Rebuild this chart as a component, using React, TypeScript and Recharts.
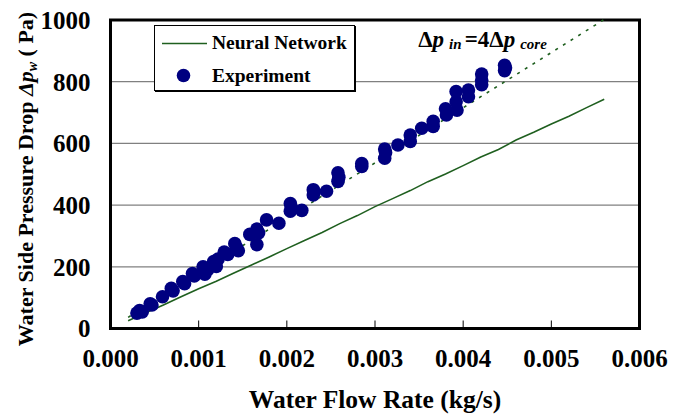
import React from 'react';
import {
  ComposedChart,
  Line,
  Scatter,
  XAxis,
  YAxis,
  CartesianGrid,
  Legend,
  ReferenceArea,
  ReferenceDot,
} from 'recharts';

const FONT = '"Liberation Serif", "Times New Roman", Times, serif';
const NAVY = '#000080';
const GREEN = '#1F5F1F';

// X tick labels and Y tick labels
const xTicks = [0, 0.001, 0.002, 0.003, 0.004, 0.005, 0.006];
const yTicks = [0, 200, 400, 600, 800, 1000];

// Neural network prediction
const nnX = [
  0.0002, 0.0004, 0.0006, 0.0008, 0.001, 0.0012, 0.0014, 0.0016, 0.0018, 0.002,
  0.0022, 0.0024, 0.0026, 0.0028, 0.003, 0.0032, 0.0034, 0.0036, 0.0038, 0.004,
  0.0042, 0.0044, 0.0046, 0.0048, 0.005, 0.0052, 0.0054, 0.0056,
];
const nnY = [
  25, 51, 76, 103, 129, 153, 180, 206, 232, 259, 285, 311, 340, 366, 395, 421,
  447, 476, 501, 528, 556, 580, 611, 636, 663, 688, 716, 743,
];

// Reference line  Δp_in = 4Δp_core
const refX = [0.0002, 0.00559];
const refY = [36, 1000];

// Experimental points
const expX = [
  0.0003, 0.00033, 0.00036, 0.00045, 0.00047, 0.00059, 0.00069, 0.00071, 0.00082,
  0.00084, 0.00093, 0.00095, 0.00105, 0.00107, 0.0011, 0.00117, 0.0012, 0.00122,
  0.00129, 0.00133, 0.00141, 0.00143, 0.00145, 0.00158, 0.00166, 0.00166, 0.00168,
  0.00177, 0.00191, 0.00204, 0.00204, 0.00205, 0.00217, 0.0023, 0.0023, 0.00231,
  0.00245, 0.00258, 0.00258, 0.00259, 0.00285, 0.00285, 0.00311, 0.00311, 0.00312,
  0.00326, 0.0034, 0.0034, 0.00353, 0.00366, 0.00366, 0.0038, 0.00381, 0.00392,
  0.00392, 0.00393, 0.00406, 0.00406, 0.00421, 0.00421, 0.00421, 0.00447, 0.00447,
  0.00448,
];
const expY = [
  50, 58, 54, 80, 76, 103, 130, 122, 152, 145, 178, 170, 200, 176, 190, 217, 201,
  225, 248, 240, 275, 262, 252, 305, 322, 272, 310, 352, 341, 405, 380, 393, 383,
  450, 433, 442, 445, 505, 477, 490, 535, 525, 582, 552, 570, 595, 627, 606, 649,
  672, 655, 712, 692, 768, 735, 708, 773, 751, 825, 805, 790, 853, 836, 845,
];

const nnData = nnX.map((x, i) => ({ x, y: nnY[i] }));
const refData = refX.map((x, i) => ({ x, y: refY[i] }));
const expData = expX.map((x, i) => ({ x, y: expY[i] }));

function XTick(props: any) {
  const { x, y, payload } = props;
  return (
    <g>
      <line x1={x} x2={x} y1={y} y2={y - 8} stroke="#000" strokeWidth={1} />
      <text
        x={x}
        y={y + 38}
        textAnchor="middle"
        fontFamily={FONT}
        fontSize={25}
        fontWeight={700}
        fill="#000"
      >
        {Number(payload.value).toFixed(3)}
      </text>
    </g>
  );
}

function XTitle(props: any) {
  const vb = props.viewBox || {};
  const cx = vb.x + vb.width / 2;
  return (
    <text
      x={cx}
      y={408}
      textAnchor="middle"
      fontFamily={FONT}
      fontSize={25.5}
      fontWeight={700}
      fill="#000"
    >
      Water Flow Rate (kg/s)
    </text>
  );
}

function YTitle() {
  const cx = 33;
  const cy = 179;
  return (
    <text
      x={cx}
      y={cy}
      transform={`rotate(-90 ${cx} ${cy})`}
      textAnchor="middle"
      fontFamily={FONT}
      fontSize={22}
      fontWeight={700}
      fill="#000"
    >
      <tspan>Water Side Pressure Drop </tspan>
      <tspan fontStyle="italic">Δp</tspan>
      <tspan fontStyle="italic" fontSize={14} dy={4}>w</tspan>
      <tspan dy={-4}> ( Pa)</tspan>
    </text>
  );
}

function Annotation(props: any) {
  const vb = props.viewBox || {};
  return (
    <text
      x={vb.x}
      y={vb.y}
      fontFamily={FONT}
      fontSize={23}
      fontWeight={700}
      fill="#000"
    >
      <tspan>Δ</tspan>
      <tspan fontStyle="italic">p</tspan>
      <tspan fontStyle="italic" fontSize={15} dx={5} dy={2}>in</tspan>
      <tspan dy={-2} dx={3}>=4Δ</tspan>
      <tspan fontStyle="italic">p</tspan>
      <tspan fontStyle="italic" fontSize={15} dx={5} dy={2}>core</tspan>
    </text>
  );
}

function LegendBox() {
  return (
    <div
      style={{
        width: 201,
        height: 66,
        boxSizing: 'border-box',
        border: '1px solid #000',
        boxShadow: '1px 1px 0 #000',
        background: '#fff',
        position: 'relative',
      }}
    >
      <svg width={199} height={64} style={{ position: 'absolute', left: 0, top: 0 }}>
        <line x1={7} x2={52} y1={17.5} y2={17.5} stroke={GREEN} strokeWidth={1.6} />
        <circle cx={28.5} cy={49.5} r={6.8} fill={NAVY} />
        <text x={57} y={23} fontFamily={FONT} fontSize={19.5} fontWeight={700} fill="#000">
          Neural Network
        </text>
        <text x={57} y={55.5} fontFamily={FONT} fontSize={19.5} fontWeight={700} fill="#000">
          Experiment
        </text>
      </svg>
    </div>
  );
}

const dotShape = (p: any) => <circle cx={p.cx} cy={p.cy} r={6.8} fill={NAVY} />;

export default function App() {
  return (
    <div style={{ position: 'absolute', left: 0, top: 0, width: 686, height: 417, background: '#fff' }}>
      <ComposedChart
        width={686}
        height={417}
        margin={{ top: 20, right: 46.5, bottom: 0, left: 0 }}
      >
        <CartesianGrid horizontal vertical={false} stroke="#808080" strokeWidth={1.2} />
        <XAxis
          type="number"
          dataKey="x"
          domain={[0, 0.006]}
          ticks={xTicks}
          interval={0}
          height={88.5}
          axisLine={false}
          tickLine={false}
          tickSize={0}
          tickMargin={0}
          tick={<XTick />}
          label={<XTitle />}
        />
        <YAxis
          type="number"
          dataKey="y"
          domain={[0, 1000]}
          ticks={yTicks}
          interval={0}
          width={110.5}
          axisLine={false}
          tickLine={false}
          tickSize={0}
          tickMargin={20}
          tick={{ fontFamily: FONT, fontSize: 25, fontWeight: 700, fill: '#000' }}
          label={<YTitle />}
        />
        <Line
          data={nnData}
          dataKey="y"
          type="linear"
          stroke={GREEN}
          strokeWidth={1.6}
          dot={false}
          isAnimationActive={false}
          legendType="line"
          name="Neural Network"
        />
        <Line
          data={refData}
          dataKey="y"
          type="linear"
          stroke={GREEN}
          strokeWidth={1.6}
          strokeDasharray="3 6"
          dot={false}
          isAnimationActive={false}
          legendType="none"
        />
        <Scatter
          data={expData}
          dataKey="y"
          shape={dotShape}
          isAnimationActive={false}
          name="Experiment"
        />
        <ReferenceArea
          x1={0}
          x2={0.006}
          y1={0}
          y2={1000}
          stroke="#000"
          strokeWidth={3}
          fill="none"
          fillOpacity={0}
        />
        <ReferenceDot x={0.00349} y={912} r={0} fill="none" stroke="none" label={<Annotation />} />
        <Legend
          layout="vertical"
          verticalAlign="middle"
          align="center"
          wrapperStyle={{ left: 154, top: 25, width: 201, height: 66 }}
          content={LegendBox}
        />
      </ComposedChart>
    </div>
  );
}
